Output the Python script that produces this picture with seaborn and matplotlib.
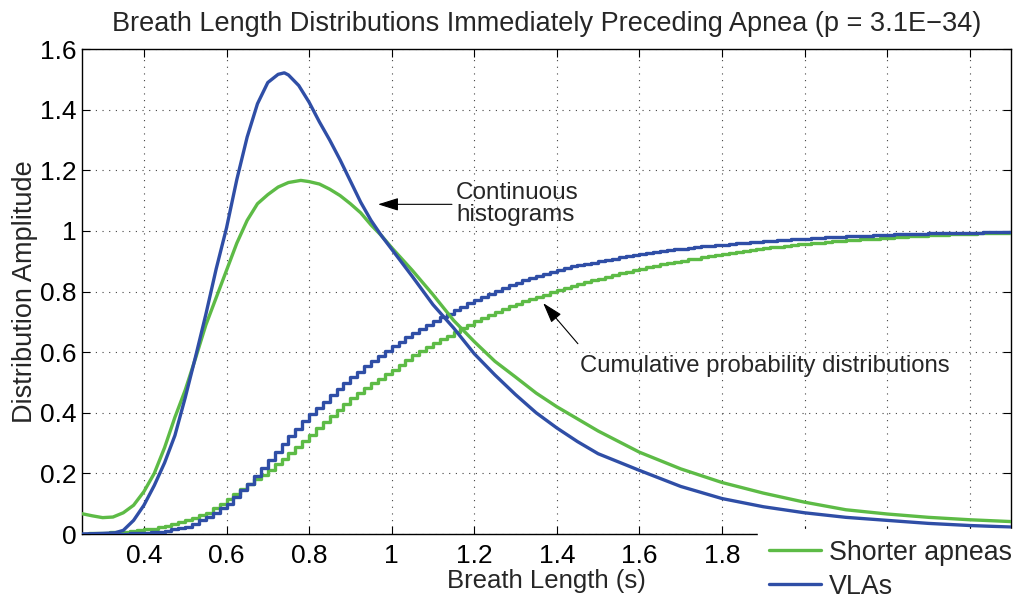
import numpy as np
import pandas as pd
import matplotlib
matplotlib.use("Agg")
import matplotlib.pyplot as plt
import seaborn as sns
from matplotlib.lines import Line2D

# ---------------- data ----------------
title = "Breath Length Distributions Immediately Preceding Apnea (p = 3.1E\u221234)"
series_names = ["Shorter apneas", "VLAs"]

# continuous histograms
hist_short_x = [0.25, 0.275, 0.30, 0.325, 0.35, 0.375, 0.40, 0.425, 0.45, 0.475, 0.50, 0.525,
                0.55, 0.575, 0.60, 0.625, 0.65, 0.675, 0.70, 0.725, 0.75, 0.78, 0.80, 0.825,
                0.85, 0.875, 0.90, 0.925, 0.95, 0.975, 1.00, 1.05, 1.10, 1.15, 1.20, 1.25,
                1.30, 1.35, 1.40, 1.45, 1.50, 1.60, 1.70, 1.80, 1.90, 2.00, 2.10, 2.20, 2.30,
                2.40, 2.50]
hist_short_y = [0.067, 0.060, 0.054, 0.056, 0.070, 0.095, 0.140, 0.200, 0.285, 0.385, 0.475, 0.580,
                0.690, 0.780, 0.870, 0.960, 1.035, 1.090, 1.120, 1.145, 1.160, 1.167, 1.163, 1.155,
                1.138, 1.117, 1.090, 1.060, 1.020, 0.985, 0.945, 0.870, 0.790, 0.705, 0.635, 0.570,
                0.518, 0.465, 0.420, 0.380, 0.340, 0.270, 0.215, 0.170, 0.135, 0.105, 0.080, 0.066,
                0.055, 0.047, 0.041]

hist_vla_x = [0.25, 0.30, 0.33, 0.35, 0.375, 0.40, 0.425, 0.45, 0.475, 0.50, 0.525, 0.55,
              0.575, 0.60, 0.625, 0.65, 0.675, 0.70, 0.725, 0.74, 0.75, 0.775, 0.80, 0.825,
              0.85, 0.875, 0.90, 0.925, 0.95, 0.975, 1.00, 1.05, 1.10, 1.15, 1.20, 1.25,
              1.30, 1.35, 1.40, 1.45, 1.50, 1.60, 1.70, 1.80, 1.90, 2.00, 2.10, 2.20, 2.30,
              2.40, 2.50]
hist_vla_y = [0.000, 0.002, 0.004, 0.012, 0.045, 0.095, 0.160, 0.235, 0.325, 0.450, 0.585, 0.725,
              0.875, 1.010, 1.170, 1.310, 1.420, 1.490, 1.517, 1.522, 1.515, 1.480, 1.425, 1.360,
              1.300, 1.235, 1.165, 1.095, 1.035, 0.985, 0.940, 0.850, 0.757, 0.680, 0.595, 0.525,
              0.460, 0.400, 0.350, 0.305, 0.265, 0.210, 0.157, 0.117, 0.090, 0.070, 0.055, 0.045,
              0.035, 0.028, 0.023]

# cumulative probability distributions (stairs, 1/60 s bins from 0.25 s to 2.5 s)
cdf_bin_start = 0.25
cdf_bin_width = 1 / 60
cdf_short = [0.001, 0.002, 0.003, 0.004, 0.005, 0.007, 0.008, 0.010, 0.013, 0.015, 0.018, 0.022,
             0.025, 0.032, 0.038, 0.045, 0.053, 0.062, 0.070, 0.085, 0.100, 0.115, 0.132, 0.148,
             0.165, 0.181, 0.196, 0.212, 0.231, 0.249, 0.268, 0.288, 0.308, 0.328, 0.349, 0.369,
             0.390, 0.409, 0.429, 0.448, 0.465, 0.483, 0.500, 0.513, 0.527, 0.540, 0.557, 0.573,
             0.590, 0.603, 0.617, 0.630, 0.643, 0.655, 0.668, 0.679, 0.691, 0.702, 0.712, 0.722,
             0.732, 0.741, 0.751, 0.760, 0.768, 0.775, 0.783, 0.790, 0.798, 0.805, 0.812, 0.818,
             0.825, 0.831, 0.837, 0.843, 0.849, 0.854, 0.860, 0.865, 0.871, 0.876, 0.881, 0.885,
             0.890, 0.894, 0.898, 0.902, 0.906, 0.909, 0.913, 0.917, 0.920, 0.924, 0.927, 0.931,
             0.934, 0.937, 0.940, 0.943, 0.946, 0.948, 0.951, 0.953, 0.956, 0.958, 0.960, 0.962,
             0.964, 0.966, 0.967, 0.969, 0.971, 0.972, 0.974, 0.975, 0.977, 0.978, 0.979, 0.981,
             0.982, 0.983, 0.985, 0.986, 0.987, 0.988, 0.989, 0.990, 0.990, 0.991, 0.992, 0.992,
             0.993, 0.994, 0.994, 0.995]
cdf_vla = [0.000, 0.000, 0.000, 0.000, 0.000, 0.001, 0.001, 0.002, 0.003, 0.004, 0.006, 0.008,
           0.010, 0.015, 0.019, 0.024, 0.034, 0.045, 0.055, 0.070, 0.085, 0.100, 0.122, 0.144,
           0.166, 0.192, 0.219, 0.245, 0.272, 0.298, 0.325, 0.348, 0.372, 0.395, 0.416, 0.437,
           0.458, 0.478, 0.497, 0.517, 0.535, 0.554, 0.572, 0.588, 0.604, 0.620, 0.635, 0.650,
           0.665, 0.678, 0.690, 0.703, 0.715, 0.726, 0.738, 0.749, 0.761, 0.772, 0.782, 0.793,
           0.803, 0.812, 0.821, 0.830, 0.838, 0.845, 0.853, 0.859, 0.866, 0.872, 0.877, 0.883,
           0.888, 0.892, 0.896, 0.900, 0.904, 0.909, 0.913, 0.917, 0.921, 0.925, 0.928, 0.931,
           0.934, 0.937, 0.939, 0.942, 0.944, 0.947, 0.949, 0.951, 0.953, 0.955, 0.957, 0.959,
           0.961, 0.963, 0.964, 0.966, 0.968, 0.969, 0.971, 0.972, 0.974, 0.975, 0.976, 0.978,
           0.979, 0.980, 0.981, 0.982, 0.983, 0.984, 0.985, 0.986, 0.987, 0.988, 0.989, 0.989,
           0.990, 0.991, 0.991, 0.992, 0.993, 0.993, 0.994, 0.994, 0.995, 0.995, 0.995, 0.996,
           0.996, 0.996, 0.997, 0.997]

x_ticks = [0.4, 0.6, 0.8, 1.0, 1.2, 1.4, 1.6, 1.8, 2.0, 2.2, 2.4]
# labels for 2, 2.2 and 2.4 lie under the legend box in the reference (hidden)
x_tick_labels = ["0.4", "0.6", "0.8", "1", "1.2", "1.4", "1.6", "1.8", "", "", ""]
y_ticks = [0, 0.2, 0.4, 0.6, 0.8, 1.0, 1.2, 1.4, 1.6]
y_tick_labels = ["0", "0.2", "0.4", "0.6", "0.8", "1", "1.2", "1.4", "1.6"]

# ---------------- style ----------------
sns.set_theme(style="ticks")
plt.rcParams["font.family"] = ["Liberation Sans", "DejaVu Sans"]
plt.rcParams["axes.unicode_minus"] = True

GREEN = "#5dbb46"
BLUE = "#2f4ea6"
LW = 2.4

fig = plt.figure(figsize=(10.16, 6.0), dpi=100)
ax = fig.add_axes([0.0807, 0.110, 0.9144, 0.808])

df_cdf_s = pd.DataFrame({"x": cdf_bin_start + cdf_bin_width * np.arange(len(cdf_short)), "y": cdf_short})
df_cdf_v = pd.DataFrame({"x": cdf_bin_start + cdf_bin_width * np.arange(len(cdf_vla)), "y": cdf_vla})
df_h_s = pd.DataFrame({"x": hist_short_x, "y": hist_short_y})
df_h_v = pd.DataFrame({"x": hist_vla_x, "y": hist_vla_y})

sns.lineplot(data=df_cdf_s, x="x", y="y", ax=ax, color=GREEN, lw=LW, drawstyle="steps-post", zorder=3)
sns.lineplot(data=df_cdf_v, x="x", y="y", ax=ax, color=BLUE, lw=LW, drawstyle="steps-post", zorder=3)
sns.lineplot(data=df_h_s, x="x", y="y", ax=ax, color=GREEN, lw=LW, zorder=3)
sns.lineplot(data=df_h_v, x="x", y="y", ax=ax, color=BLUE, lw=LW, zorder=3)

ax.set_xlim(0.25, 2.5)
ax.set_ylim(0, 1.6)
ax.set_xticks(x_ticks)
ax.set_xticklabels(x_tick_labels)
ax.set_yticks(y_ticks)
ax.set_yticklabels(y_tick_labels)
ax.tick_params(direction="in", length=6, width=0.8, top=True, right=True,
               labelsize=19, colors="black")
ax.tick_params(axis="x", pad=7)
ax.tick_params(axis="y", pad=4)
for sp in ax.spines.values():
    sp.set_visible(True)
    sp.set_color("black")
    sp.set_linewidth(1.0)
ax.grid(True, linestyle=(0, (1, 5)), color="#444444", linewidth=0.8)
ax.set_axisbelow(True)

ax.set_xlabel("Breath Length (s)", fontsize=18.5, labelpad=1)
ax.set_ylabel("Distribution Amplitude", fontsize=19.5)
ax.yaxis.set_label_coords(-0.047, 0.5)
ax.set_title(title, fontsize=19.5, pad=13)

# annotations
arrow_kw = dict(arrowstyle="-|>,head_length=0.7,head_width=0.22", color="black",
                lw=0.8, shrinkA=0, shrinkB=0, mutation_scale=18)
ax.annotate("", xy=(0.967, 1.088), xytext=(1.146, 1.088), arrowprops=arrow_kw)
ax.text(1.156, 1.090, "Continuous\nhistograms", fontsize=17.5, ha="left", va="center",
        linespacing=1.0)
ax.annotate("", xy=(1.367, 0.762), xytext=(1.451, 0.628), arrowprops=arrow_kw)
ax.text(1.456, 0.555, "Cumulative probability distributions", fontsize=17.2,
        ha="left", va="center")

# legend (white box covering lower right, MATLAB style)
handles = [Line2D([0], [0], color=GREEN, lw=LW), Line2D([0], [0], color=BLUE, lw=LW)]
leg = fig.legend(handles, series_names, loc="upper left",
                 bbox_to_anchor=(758 / 1016, 1 - 529 / 600), frameon=True,
                 fancybox=False, facecolor="white", edgecolor="white", framealpha=1.0,
                 fontsize=19.3, handlelength=1.95, handletextpad=0.3, labelspacing=0.3,
                 borderpad=0.4, borderaxespad=0.0)
leg.set_zorder(10)

fig.savefig("out.png", dpi=100, facecolor="white")
